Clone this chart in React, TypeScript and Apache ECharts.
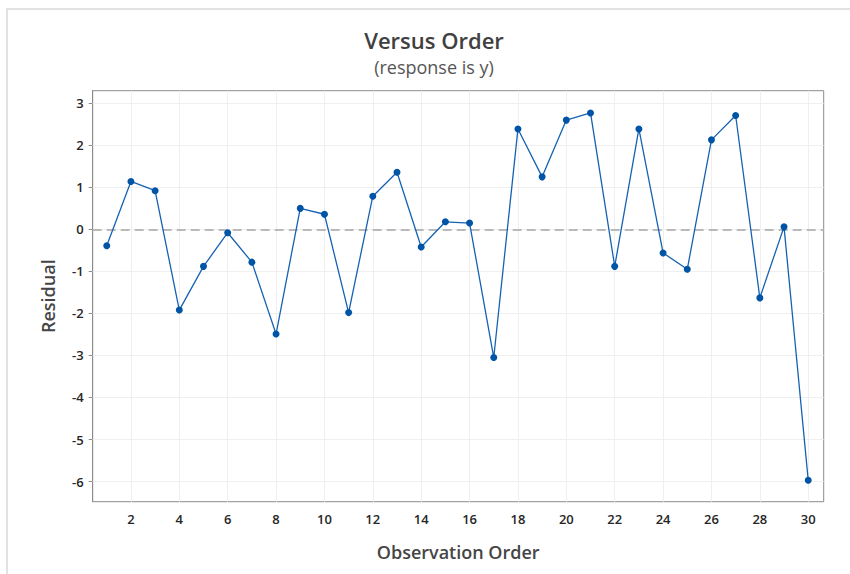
import React, { useEffect, useRef } from "react";
import * as echarts from "echarts";

const observations = [1, 2, 3, 4, 5, 6, 7, 8, 9, 10, 11, 12, 13, 14, 15, 16, 17, 18, 19, 20, 21, 22, 23, 24, 25, 26, 27, 28, 29, 30];
const residuals = [-0.39, 1.14, 0.92, -1.92, -0.88, -0.08, -0.78, -2.49, 0.5, 0.36, -1.98, 0.79, 1.36, -0.42, 0.18, 0.15, -3.05, 2.39, 1.25, 2.6, 2.77, -0.88, 2.39, -0.56, -0.95, 2.13, 2.71, -1.63, 0.06, -5.97];
const xTicks = [2, 4, 6, 8, 10, 12, 14, 16, 18, 20, 22, 24, 26, 28, 30];
const yTicks = [-6, -5, -4, -3, -2, -1, 0, 1, 2, 3];
const referenceValue = 0;

const titleText = "Versus Order";
const subtitleText = "(response is y)";
const xName = "Observation Order";
const yName = "Residual";

const FONT = "'Open Sans', 'Noto Sans', sans-serif";

export default function App() {
  const ref = useRef<HTMLDivElement>(null);

  useEffect(() => {
    if (!ref.current) return;
    const chart = echarts.init(ref.current, undefined, { renderer: "svg" });

    const gridLineStyle = { color: "#efefef", width: 1, type: "solid" as const };

    const option = {
      animation: false,
      backgroundColor: "#ffffff",
      grid: {
        left: 92.7,
        top: 90.7,
        right: 26.3,
        bottom: 72.3,
        show: true,
        borderColor: "#8c8c8c",
        borderWidth: 1,
        backgroundColor: "transparent",
      },
      graphic: [
        {
          type: "rect",
          shape: { x: 7, y: 9, width: 900, height: 700 },
          style: { fill: "none", stroke: "#d9d9d9", lineWidth: 1.5 },
          silent: true,
          z: -10,
        },
        {
          type: "text",
          x: 434,
          y: 40,
          style: {
            text: titleText,
            fill: "#404040",
            font: `600 22px ${FONT}`,
            textAlign: "center",
            textVerticalAlign: "middle",
          },
        },
        {
          type: "text",
          x: 434,
          y: 67,
          style: {
            text: subtitleText,
            fill: "#555555",
            font: `400 18px ${FONT}`,
            textAlign: "center",
            textVerticalAlign: "middle",
          },
        },
      ],
      xAxis: {
        type: "value",
        min: 0.42,
        max: 30.64,
        name: xName,
        nameLocation: "middle",
        nameGap: 41,
        nameTextStyle: { color: "#454545", fontSize: 18, fontFamily: FONT, fontWeight: 600 },
        axisLine: { show: true, lineStyle: { color: "#8c8c8c", width: 1 } },
        axisTick: { show: true, length: 4, customValues: xTicks, lineStyle: { color: "#8c8c8c" } },
        axisLabel: {
          customValues: xTicks,
          margin: 11,
          color: "#262626",
          fontSize: 13,
          fontFamily: FONT,
          fontWeight: 600,
        },
        splitLine: { show: false },
      },
      yAxis: {
        type: "value",
        min: -6.48,
        max: 3.3,
        name: yName,
        nameLocation: "middle",
        nameGap: 36,
        nameRotate: 90,
        nameTextStyle: { color: "#454545", fontSize: 18, fontFamily: FONT, fontWeight: 600 },
        axisLine: { show: true, lineStyle: { color: "#8c8c8c", width: 1 } },
        axisTick: { show: true, length: 4, customValues: yTicks, lineStyle: { color: "#8c8c8c" } },
        axisLabel: {
          customValues: yTicks,
          margin: 9,
          color: "#262626",
          fontSize: 13,
          fontFamily: FONT,
          fontWeight: 600,
        },
        splitLine: { show: false },
      },
      series: [
        {
          type: "line",
          data: [],
          silent: true,
          z: 1,
          markLine: {
            silent: true,
            symbol: "none",
            z: 1,
            label: { show: false },
            lineStyle: gridLineStyle,
            data: [
              ...xTicks.map((v) => ({ xAxis: v })),
              ...yTicks.map((v) => ({ yAxis: v })),
            ],
          },
        },
        {
          type: "line",
          data: [],
          silent: true,
          z: 2,
          markLine: {
            silent: true,
            symbol: "none",
            z: 2,
            label: { show: false },
            lineStyle: { color: "#a6a6a6", width: 1.5, type: [9, 5] },
            data: [{ yAxis: referenceValue }],
          },
        },
        {
          type: "line",
          z: 10,
          data: observations.map((o, i) => [o, residuals[i]]),
          symbol: "circle",
          symbolSize: 7,
          itemStyle: { color: "#0054a6" },
          lineStyle: { color: "#1562b3", width: 1.3 },
        },
      ],
    };

    chart.setOption(option as any);
    return () => chart.dispose();
  }, []);

  return (
    <div
      ref={ref}
      style={{ position: "fixed", left: 0, top: 0, width: 850, height: 574, background: "#fff" }}
    />
  );
}
